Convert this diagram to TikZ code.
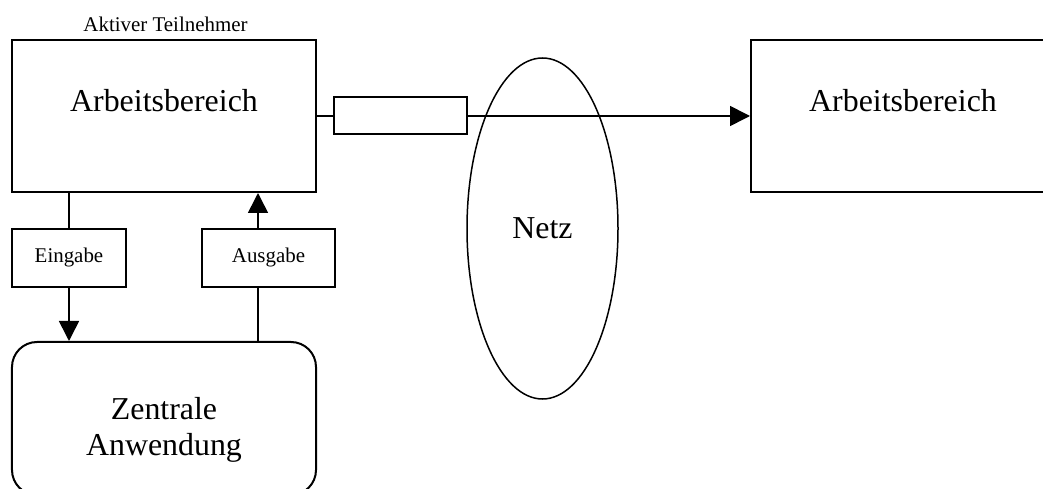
\documentclass[tikz,border=0pt]{standalone}
\usepackage{fontspec}
\setmainfont{Liberation Serif}
\usetikzlibrary{arrows.meta,shapes.geometric}
\newcommand{\bigtxt}{\fontsize{32}{36}\selectfont}
\newcommand{\smalltxt}{\fontsize{21}{24}\selectfont}
\begin{document}
\begin{tikzpicture}[x=1bp,y=-1bp,
  box/.style={draw,line width=2bp,minimum width=304bp,minimum height=152bp,inner sep=0pt},
  tag/.style={draw,line width=1.6bp,minimum height=58bp,inner sep=0pt,font=\smalltxt},
  link/.style={line width=1.6bp},
  tip/.style={link,-{Triangle[length=20bp,width=20bp]}}]
\useasboundingbox (0,0) rectangle (1043,489);
\clip (0,0) rectangle (1043,489);

% workspaces
\node[box,label={[name=ab1t,font=\bigtxt,yshift=15bp]center:Arbeitsbereich}] (ab1) at (164,116) {};
\node[box,label={[name=ab2t,font=\bigtxt,yshift=15bp]center:Arbeitsbereich}] (ab2) at (903,116) {};
\node[font=\smalltxt,anchor=base] (akt) at (165.5,32) {Aktiver Teilnehmer};

% transfer box on the link
\node[draw,line width=2bp,minimum width=133bp,minimum height=37bp,inner sep=0pt] (pkt) at (400.5,116) {};

% network
\node[draw,ellipse,line width=1.5bp,minimum width=151bp,minimum height=341bp,inner sep=0pt,font=\bigtxt] (netz) at (542.5,228.5) {Netz};

% input / output
\node[tag,minimum width=114bp] (ein) at (69,258) {Eingabe};
\node[tag,minimum width=133bp] (aus) at (268.5,258) {Ausgabe};

% central application
\node[draw,line width=2bp,rounded corners=25bp,minimum width=304bp,minimum height=153bp,inner sep=0pt,
      label={[name=zent,font=\bigtxt,align=center,yshift=-11bp]center:Zentrale\\Anwendung}] (zen) at (164,418.5) {};

% connectors
\coordinate (ax) at (258,0);
\draw[link] (ein.north) -- (ein.north |- ab1.south);
\draw[tip] (ein.south) -- (ein.south |- zen.north);
\draw[link] (ax |- zen.north) -- (ax |- aus.south);
\draw[tip] (ax |- aus.north) -- (ax |- ab1.south);
\draw[link] (ab1.east) -- (pkt.west);
\draw[tip] (pkt.east) -- (ab2.west);
\end{tikzpicture}
\end{document}
